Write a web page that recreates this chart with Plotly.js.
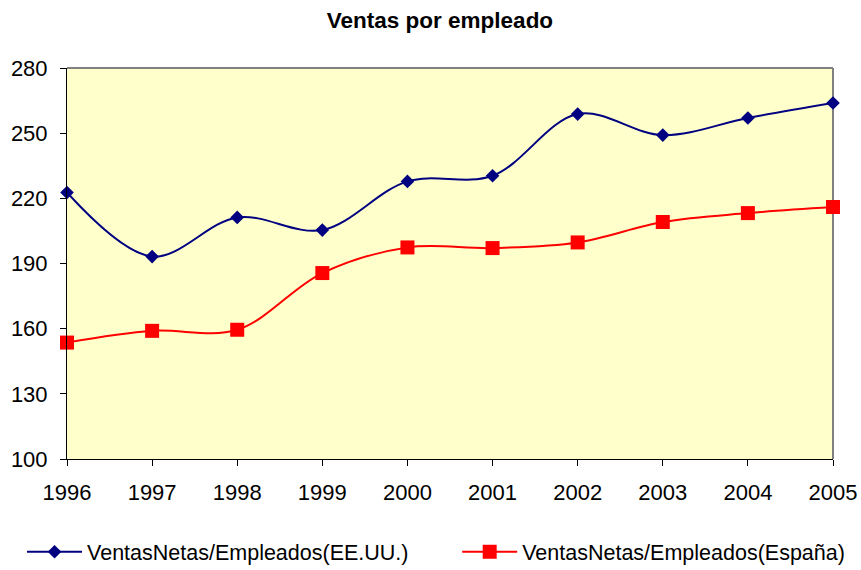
<!DOCTYPE html>
<html>
<head>
<meta charset="utf-8">
<script src="https://cdn.plot.ly/plotly-3.0.1.min.js"></script>
<style>html,body{margin:0;padding:0;background:#fff;}#chart{width:861px;height:570px;}</style>
</head>
<body>
<div id="chart"></div>
<script>
const years = [1996, 1997, 1998, 1999, 2000, 2001, 2002, 2003, 2004, 2005];
const ventasEEUU = [222.7, 193.2, 211.2, 205.4, 227.8, 230.4, 258.8, 249.1, 257.0, 263.9];
const ventasEspana = [153.6, 159.0, 159.5, 185.6, 197.4, 197.1, 199.7, 209.1, 213.2, 216.0];
const seriesNames = ["VentasNetas/Empleados(EE.UU.)", "VentasNetas/Empleados(España)"];
const yTicks = [100, 130, 160, 190, 220, 250, 280];

const font = "Arial, 'Liberation Sans', sans-serif";

const traces = [
  {
    x: years, y: ventasEEUU, name: seriesNames[0], type: "scatter", mode: "lines+markers",
    line: {color: "#000080", width: 2, shape: "spline", smoothing: 1},
    marker: {symbol: "diamond", size: 10.5, color: "#000080"},
    cliponaxis: false, legend: "legend"
  },
  {
    x: years, y: ventasEspana, name: seriesNames[1], type: "scatter", mode: "lines+markers",
    line: {color: "#FF0000", width: 2, shape: "spline", smoothing: 1},
    marker: {symbol: "square", size: 14, color: "#FF0000"},
    cliponaxis: false, legend: "legend2"
  }
];

const legendBase = {orientation: "h", xref: "container", yref: "container", xanchor: "left", y: 0.032, yanchor: "middle",
  font: {family: font, size: 21.5, color: "#000"}, itemwidth: 55, bgcolor: "rgba(0,0,0,0)"};

const layout = {
  width: 861, height: 570,
  margin: {l: 67, r: 28, t: 68, b: 111},
  paper_bgcolor: "#ffffff",
  plot_bgcolor: "#FFFFCC",
  font: {family: font, color: "#000000", size: 22},
  title: {text: "<b>Ventas por empleado</b>", font: {family: font, size: 22.5, color: "#000"},
          x: 0.511, xanchor: "center", y: 0.965, yanchor: "middle", yref: "container"},
  showlegend: true,
  legend: Object.assign({}, legendBase, {x: 0.0256}),
  legend2: Object.assign({}, legendBase, {x: 0.531}),
  xaxis: {
    range: [1996, 2005], tickmode: "array", tickvals: years, ticktext: years.map(String),
    showgrid: false, zeroline: false, showline: true, linecolor: "#000", linewidth: 1,
    ticks: "outside", ticklen: 6, tickcolor: "#000", ticklabelstandoff: 8,
    tickfont: {family: font, size: 22, color: "#000"}, fixedrange: true
  },
  yaxis: {
    range: [100, 280], tickmode: "array", tickvals: yTicks, ticktext: yTicks.map(String),
    showgrid: false, zeroline: false, showline: true, linecolor: "#000", linewidth: 1,
    ticks: "outside", ticklen: 6, tickcolor: "#000", ticklabelstandoff: 8,
    tickfont: {family: font, size: 22, color: "#000"}, fixedrange: true
  },
  shapes: [
    {type: "line", xref: "paper", yref: "paper", x0: 0, x1: 1, y0: 1, y1: 1, line: {color: "#808080", width: 2}, layer: "below"},
    {type: "line", xref: "paper", yref: "paper", x0: 1, x1: 1, y0: 0, y1: 1, line: {color: "#808080", width: 2}, layer: "below"}
  ]
};

Plotly.newPlot("chart", traces, layout, {displayModeBar: false, staticPlot: true});
</script>
</body>
</html>
